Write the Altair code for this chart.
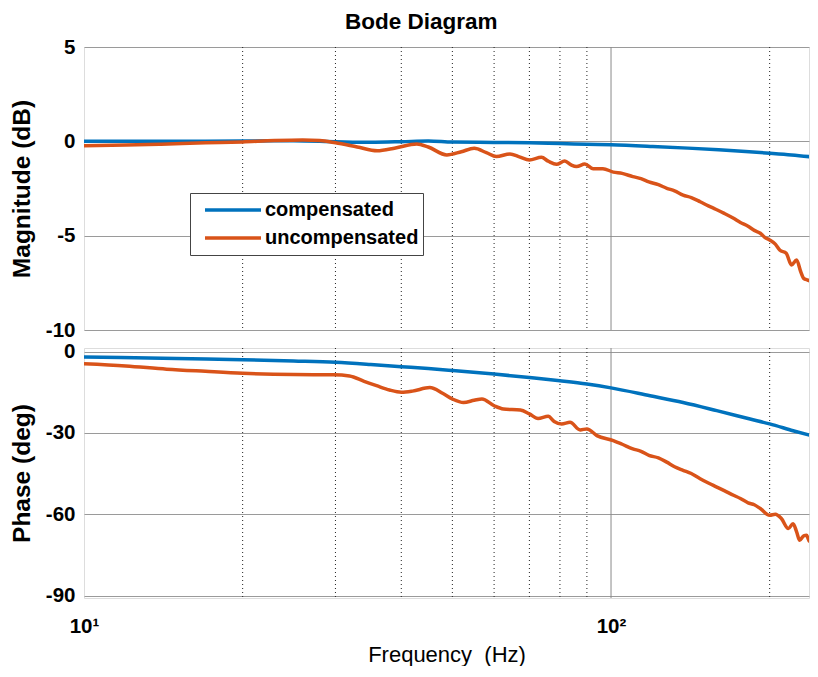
import altair as alt
import pandas as pd

FONT = "Liberation Sans"
series_names = ["compensated", "uncompensated"]
series_colors = ["#0072BD", "#D95319"]

# ---- Magnitude (dB) ----
mag_comp_f = [10, 15, 20, 25, 30, 35, 40, 45, 50, 60, 70, 80, 90, 100, 120, 140, 160, 180, 200, 220, 247]
mag_comp_v = [0.0, 0.0, 0.02, 0.03, -0.02, -0.05, -0.02, 0.02, -0.04, -0.06, -0.08, -0.12, -0.15, -0.18,
              -0.27, -0.36, -0.45, -0.54, -0.63, -0.72, -0.86]

mag_unc_f = [10, 12, 14, 17, 20, 23, 26, 28, 30, 33, 36, 39, 42.8, 45, 48.8, 52, 55, 58, 60.6, 64.3, 67,
             70, 73.8, 76, 78.8, 81.7, 84, 86, 89.2, 92.5, 96.5, 101, 105, 110, 114, 118, 123, 127.6, 132,
             137, 142, 147.6, 153, 158, 164, 170.8, 176, 182, 187, 192, 196, 200, 205, 209, 215, 220, 225,
             229, 232, 236, 239, 242, 245, 247]
mag_unc_v = [-0.23, -0.2, -0.15, -0.08, -0.03, 0.04, 0.07, 0.04, -0.08, -0.3, -0.5, -0.35, -0.14, -0.3,
             -0.72, -0.55, -0.37, -0.6, -0.81, -0.67, -0.82, -0.99, -0.85, -1.05, -1.22, -1.04, -1.25,
             -1.34, -1.2, -1.45, -1.45, -1.63, -1.7, -1.87, -1.98, -2.15, -2.3, -2.49, -2.62, -2.85, -2.98,
             -3.2, -3.42, -3.6, -3.82, -4.08, -4.3, -4.5, -4.72, -4.87, -5.1, -5.23, -5.45, -5.76, -5.93,
             -6.55, -6.29, -6.9, -7.26, -7.35, -7.4, -7.2, -7.7, -8.05]

# ---- Phase (deg) ----
ph_comp_f = [10, 15, 20, 25, 30, 35, 40, 45, 50, 60, 70, 80, 90, 100, 118.6, 137, 158.7, 183.6, 200, 221.5, 247]
ph_comp_v = [-2.0, -2.6, -3.0, -3.5, -4.0, -4.8, -5.6, -6.3, -7.0, -8.3, -9.6, -10.8, -12.0, -13.4,
             -16.3, -18.8, -21.8, -24.9, -26.7, -29.2, -31.7]

ph_unc_f = [10, 12, 14.35, 17, 20, 25, 29.7, 31.9, 34, 35.9, 38, 40, 42, 45.3, 48, 50, 52.5, 55, 56.9, 60,
            62.5, 67.3, 70, 72.7, 76, 78, 80.6, 83.6, 87.4, 90, 94, 101, 105, 110, 114, 118, 123, 127.6,
            132, 137, 142, 147.6, 153, 158, 164, 170.8, 176, 182, 187, 192, 200, 205, 210.5, 217, 221.5,
            225, 228, 232, 235, 238, 241, 245, 247]
ph_unc_v = [-4.5, -5.3, -6.5, -7.3, -8.0, -8.5, -8.6, -9.0, -11.0, -12.6, -14.2, -15.0, -14.6, -13.3,
            -15.5, -17.5, -18.8, -18.0, -17.5, -20.0, -21.2, -21.6, -23.0, -24.7, -23.9, -25.8, -26.7,
            -26.1, -28.9, -28.55, -31.0, -32.85, -34.2, -35.9, -36.8, -38.3, -39.2, -40.8, -42.5, -43.8,
            -45.0, -46.9, -48.5, -49.8, -51.3, -53.0, -54.2, -55.8, -56.5, -57.9, -60.4, -60.0, -61.6,
            -65.3, -63.5, -66.5, -69.6, -68.0, -67.8, -70.0, -69.0, -66.0, -68.5]

x_minor_grid = [20, 30, 40, 50, 60, 70, 80, 90, 200]
x_major_grid = [100]
x_tick_values = [10, 100]
x_tick_labels = ["10\u00b9", "10\u00b2"]
mag_ticks = [-10, -5, 0, 5]
phase_ticks = [-90, -60, -30, 0]


def frame(fs, vs, name):
    return pd.DataFrame({"f": fs, "v": vs, "series": name})


mag_df = pd.concat([frame(mag_comp_f, mag_comp_v, series_names[0]),
                    frame(mag_unc_f, mag_unc_v, series_names[1])])
ph_df = pd.concat([frame(ph_comp_f, ph_comp_v, series_names[0]),
                   frame(ph_unc_f, ph_unc_v, series_names[1])])

x_scale = alt.Scale(type="log", domain=[10, 237.5], nice=False)
color_scale = alt.Scale(domain=series_names, range=series_colors)

label_expr = " : ".join(
    [f"datum.value == {v} ? '{l}'" for v, l in zip(x_tick_values, x_tick_labels)]) + " : ''"

bottom_x_axis = alt.Axis(values=x_tick_values, labelExpr=label_expr, title="Frequency\u00a0\u00a0(Hz)",
                         grid=False, ticks=False, domain=False, labelFlush=False,
                         labelPadding=18.5, titlePadding=7, labelFontSize=20.5,
                         labelFontWeight="bold", titleFontSize=22, titleFontWeight="normal",
                         labelColor="black", titleColor="black")


def vgrid(axis):
    minor = alt.Chart(pd.DataFrame({"f": x_minor_grid})).mark_rule(
        color="#222222", strokeDash=[1, 3], strokeWidth=1).encode(
        x=alt.X("f:Q", scale=x_scale, axis=axis))
    major = alt.Chart(pd.DataFrame({"f": x_major_grid})).mark_rule(
        color="#8a8a8a", strokeWidth=1).encode(
        x=alt.X("f:Q", scale=x_scale, axis=axis))
    return minor, major


def y_axis(title, values):
    return alt.Axis(values=values, title=title, grid=True, gridColor="#9a9a9a", gridWidth=1,
                    ticks=False, domain=False, labelPadding=9, titlePadding=11,
                    labelExpr="toString(datum.value)",
                    labelFontSize=20.5, labelFontWeight="bold", titleFontSize=24.5,
                    titleFontWeight="bold", labelColor="black", titleColor="black")


m1, m2 = vgrid(None)
mag_lines = alt.Chart(mag_df).mark_line(strokeWidth=3.5, clip=True, interpolate="monotone").encode(
    x=alt.X("f:Q", scale=x_scale, axis=None),
    y=alt.Y("v:Q", scale=alt.Scale(domain=[-10, 5], nice=False),
            axis=y_axis("Magnitude (dB)", mag_ticks)),
    color=alt.Color("series:N", scale=color_scale,
                    legend=alt.Legend(orient="none", legendX=106, legendY=146, title=None,
                                      symbolType="stroke", symbolSize=3136, symbolStrokeWidth=3.5,
                                      clipHeight=26, rowPadding=2,
                                      labelFontSize=20, labelFontWeight="bold", labelColor="black",
                                      fillColor="white", strokeColor="#444444", padding=4,
                                      symbolOffset=9, labelOffset=2)),
    order=alt.Order("f:Q"),
)
top = alt.layer(m1, m2, mag_lines).properties(width=725, height=283)

p1, p2 = vgrid(bottom_x_axis)
ph_lines = alt.Chart(ph_df).mark_line(strokeWidth=3.5, clip=True, interpolate="monotone").encode(
    x=alt.X("f:Q", scale=x_scale, axis=bottom_x_axis),
    y=alt.Y("v:Q", scale=alt.Scale(domain=[-90.9, 1.3], nice=False),
            axis=y_axis("Phase (deg)", phase_ticks)),
    color=alt.Color("series:N", scale=color_scale, legend=None),
    order=alt.Order("f:Q"),
)
bottom = alt.layer(p1, p2, ph_lines).properties(width=725, height=250)

chart = alt.vconcat(top, bottom, spacing=18, bounds="flush").resolve_legend(
    color="independent"
).properties(
    title=alt.TitleParams("Bode Diagram", fontSize=22.5, fontWeight="bold", font=FONT,
                          anchor="middle", color="black", offset=3, baseline="top", dx=12),
    padding={"left": 0, "top": 3, "right": 0, "bottom": 0},
).configure_view(stroke="#262626", strokeWidth=1).configure_axis(
    labelFont=FONT, titleFont=FONT
).configure_legend(labelFont=FONT).configure(background="white")

chart.save("out.html", embed_options={"renderer": "svg", "actions": False})
